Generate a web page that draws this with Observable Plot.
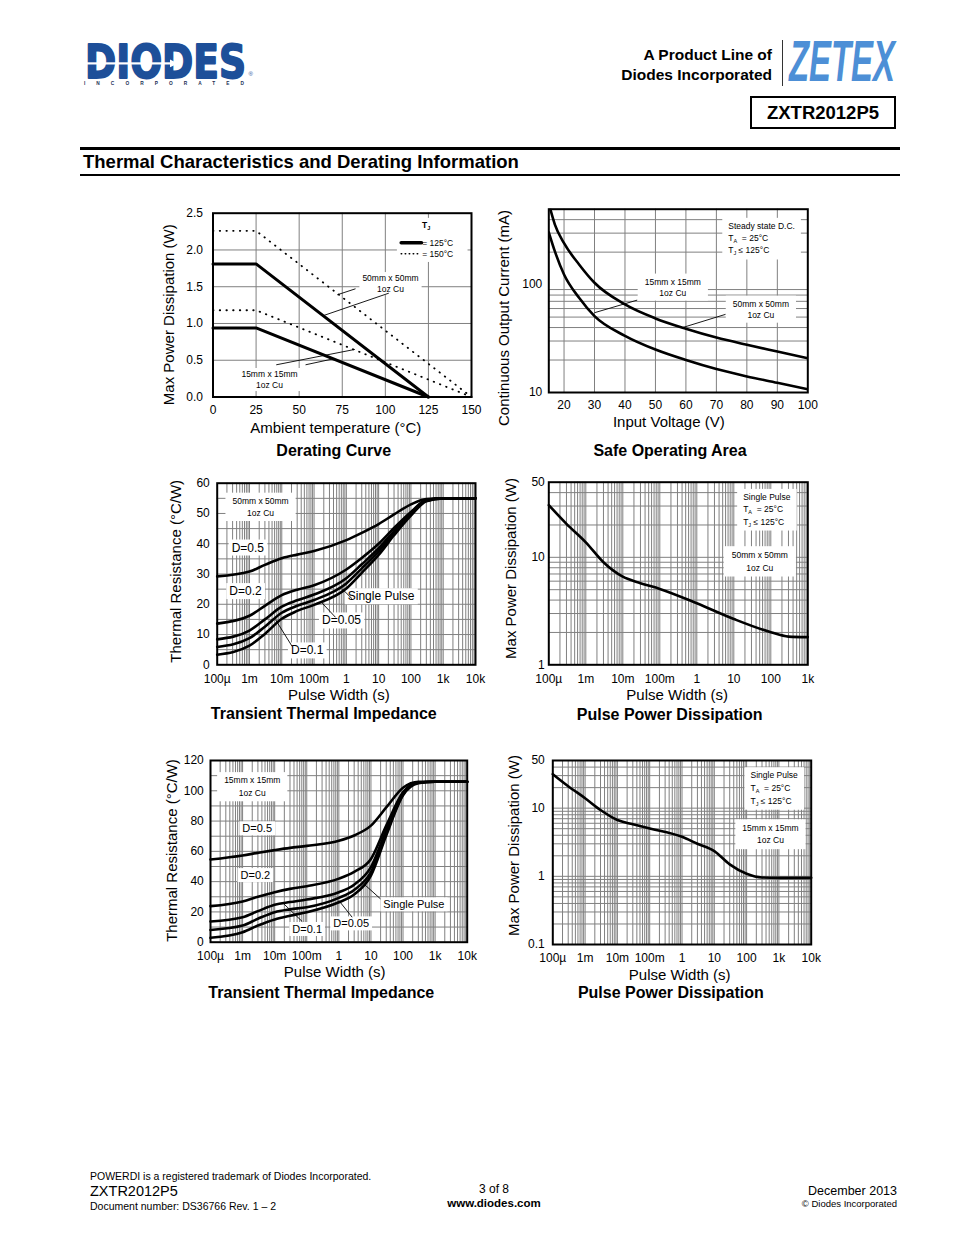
<!DOCTYPE html>
<html><head><meta charset="utf-8">
<script src="https://cdn.jsdelivr.net/npm/d3@7"></script>
<script src="https://cdn.jsdelivr.net/npm/@observablehq/plot@0.6"></script>
<style>
html,body{margin:0;padding:0;background:#fff;}
#page{position:relative;width:954px;height:1235px;overflow:hidden;font-family:"Liberation Sans",Arial,Helvetica,sans-serif;color:#000;background:#fff;}
</style></head>
<body><div id="page"></div>
<script>
// ---------------- DATA ----------------
// Derating curve
const derTemp125 = [0, 25, 125];
const der50_125 = [1.81, 1.81, 0];
const der15_125 = [0.94, 0.94, 0];
const derTemp150 = [0, 25, 150];
const der50_150 = [2.26, 2.26, 0];
const der15_150 = [1.18, 1.18, 0];
const derTicksX = [0, 25, 50, 75, 100, 125, 150];
const derTicksY = [0, 0.5, 1, 1.5, 2, 2.5];

// Safe operating area
const soaV50 = [15.5, 17, 20, 25, 30, 40, 50, 60, 70, 80, 90, 100];
const soaI50 = [500, 360, 242, 153, 104, 65.5, 48.6, 39, 32.3, 27.7, 24, 20.8];
const soaV15 = [15, 17, 20, 25, 30, 40, 50, 60, 70, 80, 90, 100];
const soaI15 = [305, 203, 124, 75, 51, 33.5, 25, 20, 16.5, 14.1, 12.3, 10.7];
const soaTicksX = [20, 30, 40, 50, 60, 70, 80, 90, 100];
const soaTicksY = [10, 100];

// Transient thermal impedance (pulse width, s)
const ttPulse = [1e-4, 1e-3, 3e-3, 1e-2, 3e-2, 0.1, 1, 3, 10, 30, 100, 300, 1000, 1e4];
const tt50_D05 = [29.2, 30.8, 33, 35.2, 36.4, 37.6, 41.2, 43.6, 46.5, 49.7, 53, 54.8, 55, 55];
const tt50_D02 = [13.6, 16.2, 19.5, 23, 24.8, 26.3, 31.5, 35.3, 40, 45.2, 50.5, 54.5, 55, 55];
const tt50_D01 = [8.4, 11.3, 15, 19.2, 21.3, 23.2, 28.6, 33.2, 38.5, 44.2, 50, 54.3, 55, 55];
const tt50_D005 = [5.9, 8.8, 12.6, 17.2, 19.5, 21.4, 26.9, 31.8, 37.5, 43.6, 49.7, 54.2, 55, 55];
const tt50_SP = [3.3, 6.3, 10.2, 15.2, 17.8, 19.8, 25.2, 30.4, 36.3, 42.8, 49.3, 54, 55, 55];
const tt15_D05 = [54.6, 57.3, 59, 60.8, 62.3, 63.6, 67, 70.5, 77, 89, 102, 106, 106, 106];
const tt15_D02 = [23.8, 26.9, 30, 33, 35.2, 37, 42, 46.5, 55, 77, 99, 105.5, 106, 106];
const tt15_D01 = [13.7, 16.5, 20.5, 24.7, 26.5, 28.2, 33, 38, 49.6, 74, 98.5, 105.5, 106, 106];
const tt15_D005 = [8.1, 11, 15.5, 19.8, 21.7, 23.1, 29.3, 34.5, 46.3, 72, 97.6, 105.3, 106, 106];
const tt15_SP = [2.9, 6.6, 11, 15, 17.5, 19.8, 26.4, 31.5, 44, 70.5, 97, 105, 106, 106];

// Pulse power dissipation
const pp50Pulse = [1e-4, 3e-4, 1e-3, 3e-3, 1e-2, 3e-2, 0.1, 1, 10, 100, 300, 1000];
const pp50Power = [30.6, 20.5, 13.8, 9.0, 6.6, 5.75, 5.08, 3.74, 2.67, 2.01, 1.83, 1.81];
const pp15Pulse = [1e-4, 3e-4, 1e-3, 3e-3, 1e-2, 3e-2, 0.1, 1, 3, 10, 30, 100, 300, 1000, 1e4];
const pp15Power = [31.5, 21, 14, 9.4, 6.7, 5.8, 5.04, 3.8, 3.0, 2.34, 1.5, 1.09, 0.96, 0.95, 0.95];

// Tick labels
const pwTicks = [1e-4, 1e-3, 1e-2, 1e-1, 1, 10, 100, 1e3, 1e4];
const pwTickLabels = ["100µ", "1m", "10m", "100m", "1", "10", "100", "1k", "10k"];
const pp50TicksY = [1, 10, 50];
const pp15TicksY = [0.1, 1, 10, 50];

// Annotations (data units)
const derNotes = [{x: 103, y: 1.55, text: "50mm x 50mm\n1oz Cu"}, {x: 32.8, y: 0.245, text: "15mm x 15mm\n1oz Cu"}];
const derLeaders = [
  {x1: 82.7, y1: 1.472, x2: 72.1, y2: 1.39}, {x1: 102, y1: 1.412, x2: 64.3, y2: 1.109},
  {x1: 36.7, y1: 0.438, x2: 82.3, y2: 0.647}, {x1: 53.7, y1: 0.438, x2: 70, y2: 0.52}];
const derLegendBox = [{x1: 107, x2: 148, y1: 1.83, y2: 2.43}];
const derLegendTitle = [{x: 123.7, y: 2.33, text: "T_J"}];
const derLegendKeys = [{x: 121.4, y: 2.097, text: "= 125°C"}, {x: 121.4, y: 1.948, text: "= 150°C"}];
const derLegendSolid = [{x: 109.2, y: 2.097}, {x: 121, y: 2.097}];
const derLegendDotted = [{x: 109.2, y: 1.948}, {x: 120.5, y: 1.948}];

const soaCond = [{x: 73.9, y: 275, text: "Steady state D.C.\nT_A  = 25°C\nT_J ≤ 125°C"}];
const soaNotes = [{x: 55.7, y: 95.9, text: "15mm x 15mm\n1oz Cu"}, {x: 84.6, y: 59.9, text: "50mm x 50mm\n1oz Cu"}];
const soaLeaders = [{x1: 44, y1: 71.8, x2: 30, y2: 54.9}, {x1: 73, y1: 53, x2: 58.8, y2: 39.9}];

const tt50Board = [{x: 2.2e-3, y: 52.5, text: "50mm x 50mm\n1oz Cu"}];
const tt50Labels = [{x: 8.9e-4, y: 38.7, text: "D=0.5"}, {x: 7.5e-4, y: 24.3, text: "D=0.2"},
  {x: 11.9, y: 22.6, text: "Single Pulse"}, {x: 0.707, y: 14.6, text: "D=0.05"}, {x: 0.061, y: 4.7, text: "D=0.1"}];
const tt50Leaders = [{x1: 0.021, y1: 6.06, x2: 6.4e-3, y2: 14.9}, {x1: 0.46, y1: 15.7, x2: 0.178, y2: 20.4},
  {x1: 1.51, y1: 21.8, x2: 0.74, y2: 25.1}];

const tt15Board = [{x: 2e-3, y: 103.5, text: "15mm x 15mm\n1oz Cu"}];
const tt15Labels = [{x: 2.85e-3, y: 74.9, text: "D=0.5"}, {x: 2.5e-3, y: 44, text: "D=0.2"},
  {x: 218, y: 24.7, text: "Single Pulse"}, {x: 2.42, y: 12.1, text: "D=0.05"}, {x: 0.103, y: 8.4, text: "D=0.1"}];
const tt15Leaders = [{x1: 0.072, y1: 13.7, x2: 0.0193, y2: 25.3}, {x1: 2.6, y1: 16.5, x2: 1.0, y2: 27.5},
  {x1: 19.9, y1: 28.6, x2: 6.0, y2: 38.5}];

const pp50Cond = [{x: 17.9, y: 28.6, text: "Single Pulse\nT_A  = 25°C\nT_J ≤ 125°C"}];
const pp50Notes = [{x: 50.5, y: 9.36, text: "50mm x 50mm\n1oz Cu"}];
const pp15Cond = [{x: 132, y: 20.5, text: "Single Pulse\nT_A  = 25°C\nT_J ≤ 125°C"}];
const pp15Notes = [{x: 548, y: 4.26, text: "15mm x 15mm\n1oz Cu"}];

// ---------------- HELPERS ----------------
const FONT = '"Liberation Sans", Arial, Helvetica, sans-serif';
const GRID = "#808080";
const NS = "http://www.w3.org/2000/svg";
const page = document.getElementById("page");

const pts = (xs, ys) => xs.map((x, i) => ({x, y: ys[i]}));
const series = (xs, list) => list.flatMap(([name, ys]) => ys.map((y, i) => ({x: xs[i], y, s: name})));
const minorLog = (e0, e1) => d3.range(e0, e1).flatMap(e => d3.range(1, 10).map(m => m * Math.pow(10, e)));
const fmtFrom = (ticks, labels) => d => {
  const i = ticks.findIndex(t => Math.abs(t - d) <= 1e-9 * Math.abs(t));
  return i < 0 ? "" : labels[i];
};

function addText(str, x, y, o = {}) {
  const d = document.createElement("div");
  d.textContent = str;
  const tx = o.anchor === "start" ? "0" : o.anchor === "end" ? "-100%" : "-50%";
  Object.assign(d.style, {
    position: "absolute", left: x + "px", top: y + "px", transform: `translate(${tx},-50%)`,
    fontSize: (o.size || 12) + "px", fontWeight: o.weight || "normal", lineHeight: "1",
    whiteSpace: "nowrap", fontFamily: o.family || FONT, color: o.color || "#000"
  });
  page.appendChild(d);
  return d;
}
function addBlock(x, y, w, h, css) {
  const d = document.createElement("div");
  Object.assign(d.style, {position: "absolute", left: x + "px", top: y + "px", width: w + "px", height: h + "px", boxSizing: "border-box"}, css);
  page.appendChild(d);
  return d;
}

function postProcess(svg) {
  // subscripts written as T_A / T_J
  svg.querySelectorAll("text, tspan").forEach(el => {
    [...el.childNodes].forEach(node => {
      if (node.nodeType === 3 && node.nodeValue.includes("_")) {
        const m = node.nodeValue.match(/^(.*?)_(\S)(.*)$/);
        if (!m) return;
        const sub = document.createElementNS(NS, "tspan");
        sub.setAttribute("dy", "2"); sub.setAttribute("font-size", "5.5"); sub.textContent = m[2];
        const rest = document.createElementNS(NS, "tspan");
        rest.setAttribute("dy", "-2"); rest.textContent = m[3];
        node.replaceWith(document.createTextNode(m[1]), sub, rest);
      }
    });
  });
  // white boxes behind annotation texts
  svg.querySelectorAll("g[aria-description^='box']").forEach(g => {
    const [, px, py] = g.getAttribute("aria-description").split(" ").map(Number);
    g.querySelectorAll(":scope > text").forEach(t => {
      const bb = t.getBBox();
      const r = document.createElementNS(NS, "rect");
      r.setAttribute("x", bb.x - px); r.setAttribute("y", bb.y - py);
      r.setAttribute("width", bb.width + 2 * px); r.setAttribute("height", bb.height + 2 * py);
      r.setAttribute("fill", "#fff"); r.setAttribute("stroke", "none");
      const tr = t.getAttribute("transform");
      if (tr) r.setAttribute("transform", tr);
      t.parentNode.insertBefore(r, t);
    });
  });
}

function chart(c) {
  const [left, top, width, height] = c.box;
  const [L, R, T, B] = c.frame;
  const yLabels = c.yAsText
    ? Plot.text(c.yTicks, {y: d => d, text: c.yFmt, frameAnchor: "left", textAnchor: "end", lineAnchor: "middle", dx: -c.yPad, fontSize: 12})
    : Plot.axisY(c.yTicks, {tickSize: 0, tickPadding: c.yPad, tickFormat: c.yFmt, label: null, fontSize: 12});
  const yScale = c.yAsText ? {...c.y, axis: null} : c.y;
  const svg = Plot.plot({
    width, height,
    marginLeft: L - left, marginRight: left + width - R, marginTop: T - top, marginBottom: top + height - B,
    style: {fontFamily: FONT, fontSize: "12px", background: "transparent", color: "#000", overflow: "visible"},
    x: c.x, y: yScale,
    marks: [
      ...c.marks,
      Plot.frame({stroke: "#000", strokeWidth: 2}),
      Plot.axisX(c.xTicks, {tickSize: 0, tickPadding: c.xPad, tickFormat: c.xFmt, label: null, fontSize: 12}),
      yLabels,
      Plot.text([c.xTitle], {text: d => d, frameAnchor: "bottom", textAnchor: "middle", lineAnchor: "middle",
        dx: c.xTitleAt[0] - (L + R) / 2, dy: c.xTitleAt[1] - B, fontSize: 15}),
      Plot.text([c.yTitle], {text: d => d, frameAnchor: "left", textAnchor: "middle", lineAnchor: "middle", rotate: -90,
        dx: c.yTitleAt[0] - L, dy: c.yTitleAt[1] - (T + B) / 2, fontSize: 15})
    ]
  });
  Object.assign(svg.style, {position: "absolute", left: left + "px", top: top + "px"});
  page.appendChild(svg);
  postProcess(svg);
  addText(c.title, c.titleAt[0], c.titleAt[1], {size: 16, weight: "bold"});
}

const lineOpts = {x: "x", y: "y", stroke: "#000", strokeWidth: 2.6, strokeLinejoin: "round"};
const linkOpts = {x1: "x1", y1: "y1", x2: "x2", y2: "y2", stroke: "#000", strokeWidth: 0.9};
const noteOpts = (extra) => Object.assign({x: "x", y: "y", text: "text", fontSize: 8.5, fill: "#000"}, extra);

// ---------------- HEADER ----------------
(function header() {
  const logo = document.createElementNS(NS, "svg");
  logo.setAttribute("width", "200"); logo.setAttribute("height", "76");
  Object.assign(logo.style, {position: "absolute", left: "78px", top: "22px"});
  logo.innerHTML = `
    <text transform="translate(7,56) scale(1,1.24)" font-family="DejaVu Sans" font-weight="bold"><tspan font-size="37.5" fill="#1d4f99" stroke="#1d4f99" stroke-width="1.5" stroke-linejoin="round" textLength="161" lengthAdjust="spacingAndGlyphs">DIODES</tspan><tspan x="-1" dy="5.4" font-family="Liberation Sans" font-size="4.8" fill="#1c2f55" textLength="160" lengthAdjust="spacing">INCORPORATED</tspan></text>
    <rect x="7" y="40.3" width="86" height="2.2" fill="#fff"/>
    <path d="M92 37.5 L100 41.4 L92 45.3 Z" fill="#fff"/>
    <text x="170.5" y="54" font-family="Liberation Sans" font-size="6" fill="#1d4f99">®</text>`;
  page.appendChild(logo);

  addText("A Product Line of", 772, 55, {size: 15.5, weight: "bold", anchor: "end"});
  addText("Diodes Incorporated", 772, 75, {size: 15.5, weight: "bold", anchor: "end"});
  addBlock(781.5, 40, 1.2, 46, {background: "#333"});

  const zt = document.createElementNS(NS, "svg");
  zt.setAttribute("width", "135"); zt.setAttribute("height", "80");
  Object.assign(zt.style, {position: "absolute", left: "784px", top: "18px"});
  zt.innerHTML = `<text transform="translate(5,63) scale(1,1.74)" font-family="Liberation Sans" font-weight="bold" font-style="italic" font-size="32.8" fill="#4d8fd6" textLength="106" lengthAdjust="spacingAndGlyphs">ZETEX</text>`;
  page.appendChild(zt);

  addBlock(750, 96, 146, 33, {border: "2px solid #000"});
  addText("ZXTR2012P5", 823, 113, {size: 18.5, weight: "bold"});

  addBlock(80, 146.5, 820, 3, {background: "#000"});
  addText("Thermal Characteristics and Derating Information", 83, 162, {size: 18.5, weight: "bold", anchor: "start"});
  addBlock(80, 174, 820, 2, {background: "#000"});
})();

// ---------------- CHART 1: Derating ----------------
chart({
  box: [150, 200, 340, 250], frame: [212.5, 471, 212.7, 396.5],
  x: {domain: [0, 150]}, y: {domain: [0, 2.5]},
  xTicks: derTicksX, xFmt: d => String(d), xPad: 8.5,
  yTicks: derTicksY, yFmt: d3.format(".1f"), yPad: 10,
  xTitle: "Ambient temperature (°C)", xTitleAt: [335.3, 428],
  yTitle: "Max Power Dissipation (W)", yTitleAt: [168.7, 314.2],
  title: "Derating Curve", titleAt: [333.7, 451],
  marks: [
    Plot.ruleX(derTicksX.slice(1, -1), {stroke: GRID}),
    Plot.ruleY(derTicksY.slice(1, -1), {stroke: GRID}),
    Plot.rect(derLegendBox, {x1: "x1", x2: "x2", y1: "y1", y2: "y2", fill: "#fff"}),
    Plot.text(derNotes, noteOpts({lineHeight: 1.3, ariaDescription: "box 3 1"})),
    Plot.link(derLeaders, linkOpts),
    Plot.line(pts(derTemp150, der50_150), {x: "x", y: "y", stroke: "#000", strokeWidth: 1.8, strokeDasharray: "0.5,6.2", strokeLinecap: "round"}),
    Plot.line(pts(derTemp150, der15_150), {x: "x", y: "y", stroke: "#000", strokeWidth: 1.8, strokeDasharray: "0.5,6.2", strokeLinecap: "round"}),
    Plot.line(pts(derTemp125, der50_125), {...lineOpts, strokeWidth: 3}),
    Plot.line(pts(derTemp125, der15_125), {...lineOpts, strokeWidth: 3}),
    Plot.text(derLegendTitle, noteOpts({fontWeight: "bold"})),
    Plot.line(derLegendSolid, {x: "x", y: "y", stroke: "#000", strokeWidth: 3.5}),
    Plot.line(derLegendDotted, {x: "x", y: "y", stroke: "#000", strokeWidth: 1.5, strokeDasharray: "0.5,3.5", strokeLinecap: "round"}),
    Plot.text(derLegendKeys, noteOpts({textAnchor: "start"}))
  ]
});

// ---------------- CHART 2: SOA ----------------
chart({
  box: [495, 200, 330, 245], frame: [548.3, 807.3, 208.7, 392],
  x: {domain: [15, 100]}, y: {type: "log", domain: [10, 500]},
  xTicks: soaTicksX, xFmt: d => String(d), xPad: 8,
  yTicks: soaTicksY, yFmt: d => String(d), yPad: 6.5, yAsText: true,
  xTitle: "Input Voltage (V)", xTitleAt: [668.3, 422],
  yTitle: "Continuous Output Current (mA)", yTitleAt: [503.7, 317.5],
  title: "Safe Operating Area", titleAt: [670, 450.5],
  marks: [
    Plot.ruleX(soaTicksX.slice(0, -1), {stroke: GRID}),
    Plot.ruleY(minorLog(1, 2).slice(1).concat([200, 300, 400]), {stroke: GRID}),
    Plot.text(soaCond, noteOpts({textAnchor: "start", lineHeight: 1.45, ariaDescription: "box 6 3"})),
    Plot.text(soaNotes, noteOpts({lineHeight: 1.3, ariaDescription: "box 7 3"})),
    Plot.link(soaLeaders, linkOpts),
    Plot.line(pts(soaV50, soaI50), {...lineOpts, curve: "monotone-x", clip: true}),
    Plot.line(pts(soaV15, soaI15), {...lineOpts, curve: "monotone-x", clip: true})
  ]
});

// ---------------- CHART 3: Transient thermal impedance 50mm ----------------
chart({
  box: [160, 470, 330, 255], frame: [216.7, 475, 482.7, 664.3],
  x: {type: "log", domain: [1e-4, 1e4]}, y: {domain: [0, 60]},
  xTicks: pwTicks, xFmt: fmtFrom(pwTicks, pwTickLabels), xPad: 9.5,
  yTicks: d3.range(0, 61, 10), yFmt: d => String(d), yPad: 7.4,
  xTitle: "Pulse Width (s)", xTitleAt: [338.3, 694.5],
  yTitle: "Thermal Resistance (°C/W)", yTitleAt: [175.4, 570.8],
  title: "Transient Thermal Impedance", titleAt: [323.8, 713.5],
  marks: [
    Plot.ruleX(minorLog(-4, 4).slice(1), {stroke: GRID}),
    Plot.ruleY(d3.range(5, 60, 5), {stroke: GRID}),
    Plot.text(tt50Board, noteOpts({lineHeight: 1.45, ariaDescription: "box 7 3"})),
    Plot.text(tt50Labels, noteOpts({fontSize: 12, ariaDescription: "box 3 1"})),
    Plot.link(tt50Leaders, linkOpts),
    Plot.line(series(ttPulse, [["D=0.5", tt50_D05], ["D=0.2", tt50_D02], ["D=0.1", tt50_D01], ["D=0.05", tt50_D005], ["Single", tt50_SP]]),
      {...lineOpts, z: "s", curve: "monotone-x"})
  ]
});

// ---------------- CHART 4: Pulse power 50mm ----------------
chart({
  box: [495, 470, 330, 255], frame: [548.3, 807.3, 481.7, 664.3],
  x: {type: "log", domain: [1e-4, 1e3]}, y: {type: "log", domain: [1, 50]},
  xTicks: pwTicks.slice(0, 8), xFmt: fmtFrom(pwTicks, pwTickLabels), xPad: 9.5,
  yTicks: pp50TicksY, yFmt: d => String(d), yPad: 4, yAsText: true,
  xTitle: "Pulse Width (s)", xTitleAt: [676.7, 695],
  yTitle: "Max Power Dissipation (W)", yTitleAt: [510.4, 568],
  title: "Pulse Power Dissipation", titleAt: [669.7, 714.5],
  marks: [
    Plot.ruleX(minorLog(-4, 3).slice(1), {stroke: GRID}),
    Plot.ruleY(minorLog(0, 1).slice(1).concat([10, 20, 30, 40]), {stroke: GRID}),
    Plot.text(pp50Cond, noteOpts({textAnchor: "start", lineHeight: 1.45, ariaDescription: "box 6 3"})),
    Plot.text(pp50Notes, noteOpts({lineHeight: 1.45, ariaDescription: "box 8 4"})),
    Plot.line(pts(pp50Pulse, pp50Power), {...lineOpts, curve: "monotone-x"})
  ]
});

// ---------------- CHART 5: Transient thermal impedance 15mm ----------------
chart({
  box: [160, 745, 330, 265], frame: [210, 466.7, 760, 941.7],
  x: {type: "log", domain: [1e-4, 1e4]}, y: {domain: [0, 120]},
  xTicks: pwTicks, xFmt: fmtFrom(pwTicks, pwTickLabels), xPad: 9.5,
  yTicks: d3.range(0, 121, 20), yFmt: d => String(d), yPad: 6.7,
  xTitle: "Pulse Width (s)", xTitleAt: [334.2, 972],
  yTitle: "Thermal Resistance (°C/W)", yTitleAt: [172, 850],
  title: "Transient Thermal Impedance", titleAt: [321.3, 992.5],
  marks: [
    Plot.ruleX(minorLog(-4, 4).slice(1), {stroke: GRID}),
    Plot.ruleY(d3.range(10, 120, 10), {stroke: GRID}),
    Plot.text(tt15Board, noteOpts({lineHeight: 1.55, ariaDescription: "box 7 3"})),
    Plot.text(tt15Labels, noteOpts({fontSize: 11, ariaDescription: "box 3 1"})),
    Plot.link(tt15Leaders, linkOpts),
    Plot.line(series(ttPulse, [["D=0.5", tt15_D05], ["D=0.2", tt15_D02], ["D=0.1", tt15_D01], ["D=0.05", tt15_D005], ["Single", tt15_SP]]),
      {...lineOpts, z: "s", curve: "monotone-x"})
  ]
});

// ---------------- CHART 6: Pulse power 15mm ----------------
chart({
  box: [495, 745, 330, 265], frame: [552.3, 810.7, 760, 944],
  x: {type: "log", domain: [1e-4, 1e4]}, y: {type: "log", domain: [0.1, 50]},
  xTicks: pwTicks, xFmt: fmtFrom(pwTicks, pwTickLabels), xPad: 9,
  yTicks: pp15TicksY, yFmt: d => String(d), yPad: 8, yAsText: true,
  xTitle: "Pulse Width (s)", xTitleAt: [679.2, 974.5],
  yTitle: "Max Power Dissipation (W)", yTitleAt: [513.7, 845],
  title: "Pulse Power Dissipation", titleAt: [670.8, 993],
  marks: [
    Plot.ruleX(minorLog(-4, 4).slice(1), {stroke: GRID}),
    Plot.ruleY(minorLog(-1, 1).slice(1).concat([10, 20, 30, 40]), {stroke: GRID}),
    Plot.text(pp15Cond, noteOpts({textAnchor: "start", lineHeight: 1.5, ariaDescription: "box 6 3"})),
    Plot.text(pp15Notes, noteOpts({lineHeight: 1.4, ariaDescription: "box 7 4"})),
    Plot.line(pts(pp15Pulse, pp15Power), {...lineOpts, curve: "monotone-x"})
  ]
});

// ---------------- FOOTER ----------------
addText("POWERDI is a registered trademark of Diodes Incorporated.", 90, 1176, {size: 10.5, anchor: "start"});
addText("ZXTR2012P5", 90, 1191, {size: 14.5, anchor: "start"});
addText("Document number: DS36766 Rev. 1 – 2", 90, 1206, {size: 10.5, anchor: "start"});
addText("3 of 8", 494, 1189, {size: 12});
addText("www.diodes.com", 494, 1204, {size: 11.5, weight: "bold"});
addText("December 2013", 897, 1191, {size: 12.5, anchor: "end"});
addText("© Diodes Incorporated", 897, 1204, {size: 9.5, anchor: "end"});
</script>
</body></html>
